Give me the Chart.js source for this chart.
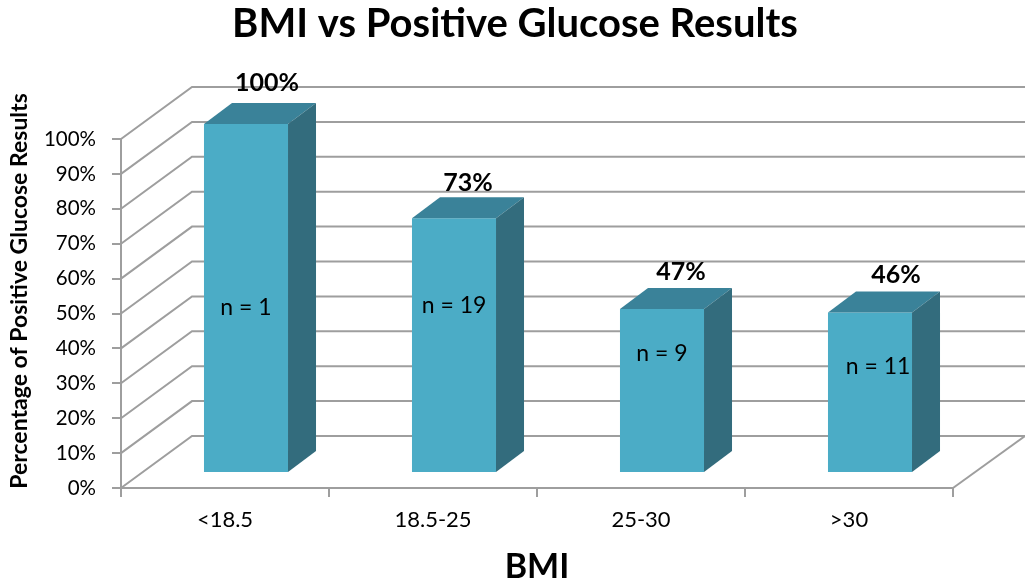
<!DOCTYPE html>
<html>
<head>
<meta charset="utf-8">
<title>BMI vs Positive Glucose Results</title>
<script src="https://cdn.jsdelivr.net/npm/chart.js@4/dist/chart.umd.js"></script>
<style>
html, body { margin: 0; padding: 0; background: #fff; }
canvas { display: block; }
</style>
</head>
<body>
<canvas id="bmiChart" width="1025" height="587"></canvas>
<script>
var categories = ["<18.5", "18.5-25", "25-30", ">30"];
var positivePct = [100, 73, 47, 46];
var pctLabels = ["100%", "73%", "47%", "46%"];
var groupSizes = ["n = 1", "n = 19", "n = 9", "n = 11"];

var FONT = "Lato, 'Noto Sans', sans-serif";
var GRID = "#9e9e9e";

// depth of the box walls and of each column, in px
var wall = { dx: 71, dy: -52 };
var barShift = { dx: 21, dy: -15 };
var barDepth = { dx: 28, dy: -21 };

// hand placed text, relative to the column's front face
var pctNudge = [[21, -41], [14, -35], [19, -37], [26, -38]];
var sizeY = [308, 306, 354, 367];
var sizeNudgeX = [0, 0, 0, 8];

var box3d = {
    id: "box3d",
    beforeDatasetsDraw: function (chart) {
        var c = chart.ctx, a = chart.chartArea, ys = chart.scales.y;
        c.save();
        c.strokeStyle = GRID;
        c.lineWidth = 2;
        ys.ticks.forEach(function (t) {
            var y = ys.getPixelForValue(t.value);
            c.beginPath();
            c.moveTo(a.left, y);
            c.lineTo(a.left + wall.dx, y + wall.dy);
            c.lineTo(a.right + wall.dx + 1, y + wall.dy);
            c.stroke();
        });
        // right edge of the floor
        c.beginPath();
        c.moveTo(a.right, a.bottom);
        c.lineTo(a.right + wall.dx + 1, a.bottom + wall.dy);
        c.stroke();
        c.restore();
        // front faces sit a little way into the box
        c.save();
        c.translate(barShift.dx, barShift.dy);
    },
    afterDatasetsDraw: function (chart) {
        var c = chart.ctx;
        c.restore();
        var bars = chart.getDatasetMeta(0).data;
        bars.forEach(function (b, i) {
            var half = b.width / 2;
            var l = b.x - half + barShift.dx, r = b.x + half + barShift.dx;
            var top = b.y + barShift.dy, bot = b.base + barShift.dy;
            // top face
            c.fillStyle = "#3a8299";
            c.beginPath();
            c.moveTo(l, top);
            c.lineTo(l + barDepth.dx, top + barDepth.dy);
            c.lineTo(r + barDepth.dx, top + barDepth.dy);
            c.lineTo(r, top);
            c.closePath();
            c.fill();
            // side face
            c.fillStyle = "#336c7d";
            c.beginPath();
            c.moveTo(r, top);
            c.lineTo(r + barDepth.dx, top + barDepth.dy);
            c.lineTo(r + barDepth.dx, bot + barDepth.dy);
            c.lineTo(r, bot);
            c.closePath();
            c.fill();

            c.textAlign = "center";
            c.textBaseline = "middle";
            c.fillStyle = "#000";
            c.font = "bold 25px " + FONT;
            c.fillText(pctLabels[i], b.x + barShift.dx + pctNudge[i][0], top + pctNudge[i][1]);
            c.font = "23px " + FONT;
            c.fillText(groupSizes[i], b.x + barShift.dx + sizeNudgeX[i], sizeY[i]);
        });
    },
    afterDraw: function (chart) {
        var c = chart.ctx;
        c.save();
        c.fillStyle = "#000";
        c.textAlign = "center";
        c.textBaseline = "middle";
        c.font = "bold 40px " + FONT;
        c.fillText("BMI vs Positive Glucose Results", 515, 24);
        c.translate(20, 291);
        c.rotate(-Math.PI / 2);
        c.font = "bold 23px " + FONT;
        c.fillText("Percentage of Positive Glucose Results", 0, 0);
        c.restore();
    }
};

new Chart(document.getElementById("bmiChart"), {
    type: "bar",
    plugins: [box3d],
    data: {
        labels: categories,
        datasets: [{
            data: positivePct,
            backgroundColor: "#4bacc6",
            borderWidth: 0,
            categoryPercentage: 0.404,
            barPercentage: 1,
            clip: false
        }]
    },
    options: {
        responsive: false,
        animation: false,
        layout: { padding: { top: 139, right: 72, bottom: 0, left: 0 } },
        plugins: { legend: { display: false }, tooltip: { enabled: false } },
        scales: {
            x: {
                afterFit: function (s) { s.height = 99; },
                border: { color: GRID, width: 2 },
                grid: { color: GRID, lineWidth: 2, drawOnChartArea: false, tickLength: 9 },
                ticks: { color: "#000", font: { family: FONT, size: 22 }, padding: 10, maxRotation: 0 },
                title: {
                    display: true,
                    text: "BMI",
                    color: "#000",
                    font: { family: FONT, size: 34, weight: "bold" },
                    padding: { top: 0, bottom: 0 }
                }
            },
            y: {
                min: 0,
                max: 100,
                afterFit: function (s) { s.width = 121; },
                border: { color: GRID, width: 2 },
                grid: { color: GRID, lineWidth: 2, drawOnChartArea: false, tickLength: 9 },
                ticks: {
                    stepSize: 10,
                    color: "#000",
                    font: { family: FONT, size: 20.5 },
                    padding: 16,
                    callback: function (v) { return v + "%"; }
                }
            }
        }
    }
});
</script>
</body>
</html>
